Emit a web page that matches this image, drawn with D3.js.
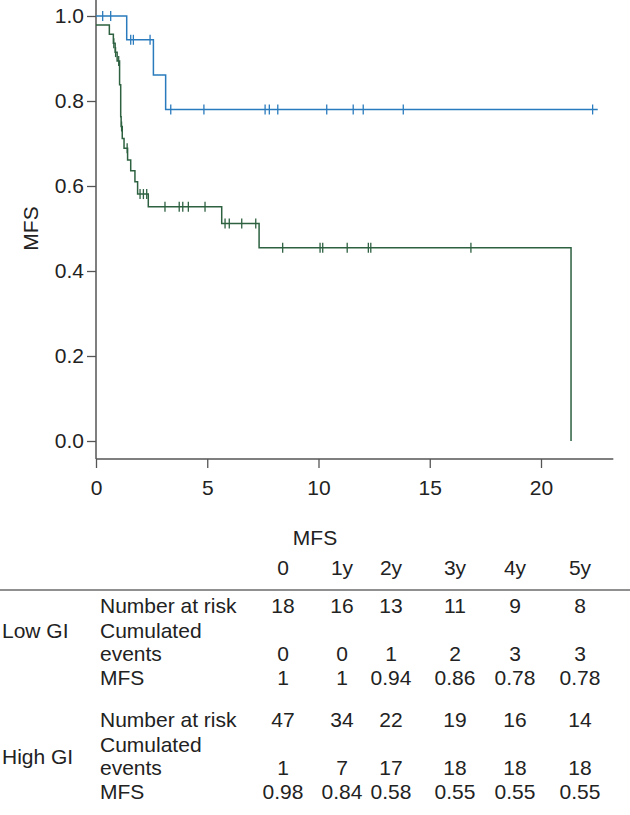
<!DOCTYPE html>
<html><head><meta charset="utf-8">
<script src="https://cdn.jsdelivr.net/npm/d3@7"></script>
<style>
body{margin:0;background:#fff}
svg{display:block}
text{font-family:"Liberation Sans",Arial,Helvetica,sans-serif;fill:#222}
</style>
</head><body>
<svg id="c" width="630" height="815"></svg>
<script>
// ---------- data ----------
const lowStepTimes = [0, 1.38, 2.58, 3.13];
const lowStepSurv  = [1.0, 0.944, 0.861, 0.780];
const lowEndTime = 22.55;
const lowCensorTimes = [0.30, 0.66, 1.56, 1.68, 2.43, 3.36, 4.85, 7.60, 7.79, 8.17, 10.37, 11.56, 12.01, 13.81, 22.32];

const highStepTimes = [0, 0.60, 0.78, 0.86, 0.95, 1.06, 1.11, 1.13, 1.18, 1.26, 1.42, 1.56, 1.75, 1.87, 2.35, 5.65, 7.33, 21.35];
const highStepSurv  = [0.979, 0.957, 0.936, 0.915, 0.894, 0.838, 0.763, 0.740, 0.712, 0.689, 0.661, 0.636, 0.610, 0.581, 0.551, 0.512, 0.455, 0.0];
const highCensorTimes = [0.80, 0.88, 1.02, 1.15, 1.40, 1.98, 2.13, 2.28, 3.10, 3.74, 3.90, 4.15, 4.90, 5.80, 5.99, 6.55, 7.18, 8.39, 10.07, 10.19, 11.29, 12.24, 12.35, 16.85];

const xTicks = [0, 5, 10, 15, 20];
const yTicks = [0, 0.2, 0.4, 0.6, 0.8, 1.0];

const tableTitle = "MFS";
const tableCols = ["0", "1y", "2y", "3y", "4y", "5y"];
const rowLabels = ["Number at risk", "Cumulated", "events", "MFS"];
const groups = ["Low GI", "High GI"];
const lowAtRisk = ["18", "16", "13", "11", "9", "8"];
const lowEvents = ["0", "0", "1", "2", "3", "3"];
const lowMFS = ["1", "1", "0.94", "0.86", "0.78", "0.78"];
const highAtRisk = ["47", "34", "22", "19", "16", "14"];
const highEvents = ["1", "7", "17", "18", "18", "18"];
const highMFS = ["0.98", "0.84", "0.58", "0.55", "0.55", "0.55"];

// ---------- drawing ----------
const svg = d3.select("#c");
const blue = "#2a7bbd", green = "#2d6140", axisCol = "#555";
const fs = 21;

const x = d3.scaleLinear().domain([0, 20]).range([96, 541]);
const y = d3.scaleLinear().domain([0, 1]).range([441, 16]);
const xAxisEnd = 23.25, yAxisTop = 1.038, xAxisY = 459;

// axes
const xa = svg.append("g").attr("transform", `translate(0,${xAxisY})`)
  .call(d3.axisBottom(x).tickValues(xTicks).tickFormat(d3.format("d")).tickSize(9).tickPadding(12).tickSizeOuter(0));
xa.select(".domain").remove();
xa.append("line").attr("x1", x(0)).attr("x2", x(xAxisEnd)).attr("stroke", axisCol).attr("stroke-width", 1.5);
xa.selectAll(".tick line").attr("stroke", axisCol).attr("stroke-width", 1.3);
xa.selectAll("text").attr("font-size", fs).attr("fill", "#222");

const ya = svg.append("g").attr("transform", `translate(${x(0)},0)`)
  .call(d3.axisLeft(y).tickValues(yTicks).tickFormat(d3.format(".1f")).tickSize(9).tickPadding(3).tickSizeOuter(0));
ya.select(".domain").remove();
ya.append("line").attr("y1", y(yAxisTop)).attr("y2", xAxisY).attr("stroke", axisCol).attr("stroke-width", 1.5);
ya.selectAll(".tick line").attr("stroke", axisCol).attr("stroke-width", 1.3);
ya.selectAll("text").attr("font-size", fs).attr("fill", "#222");

svg.append("text").attr("transform", `translate(38,${y(0.5)}) rotate(-90)`)
  .attr("text-anchor", "middle").attr("font-size", fs).text("MFS");

// curves
const line = d3.line().x(d => x(d[0])).y(d => y(d[1])).curve(d3.curveStepAfter);
function stepAt(times, surv, t) { let s = surv[0]; for (let i = 0; i < times.length; i++) if (times[i] <= t) s = surv[i]; return s; }

function drawCurve(times, surv, endT, censors, col) {
  const pts = times.map((t, i) => [t, surv[i]]);
  if (endT != null) pts.push([endT, surv[surv.length - 1]]);
  svg.append("path").datum(pts).attr("d", line).attr("fill", "none").attr("stroke", col).attr("stroke-width", 1.5);
  svg.append("g").selectAll("line").data(censors).join("line")
    .attr("x1", d => x(d)).attr("x2", d => x(d))
    .attr("y1", d => y(stepAt(times, surv, d)) - 5).attr("y2", d => y(stepAt(times, surv, d)) + 5)
    .attr("stroke", col).attr("stroke-width", 1.3);
}
drawCurve(lowStepTimes, lowStepSurv, lowEndTime, lowCensorTimes, blue);
drawCurve(highStepTimes, highStepSurv, null, highCensorTimes, green);

// table
const colPos = [283, 342, 391, 455, 515, 580];
const T = svg.append("g").attr("font-size", fs);
T.append("text").attr("x", 315).attr("y", 545).attr("text-anchor", "middle").text(tableTitle);
T.selectAll(".hdr").data(tableCols).join("text").attr("class", "hdr")
  .attr("x", (d, i) => colPos[i]).attr("y", 575).attr("text-anchor", "middle").text(d => d);
T.append("line").attr("x1", 0).attr("x2", 630).attr("y1", 590).attr("y2", 590).attr("stroke", "#222").attr("stroke-width", 1.2);

function block(label, y0, risk, ev, mfs, labelY) {
  T.append("text").attr("x", 2).attr("y", labelY).text(label);
  const rows = [[rowLabels[0], y0, risk], [rowLabels[1], y0 + 25, null], [rowLabels[2], y0 + 48, ev], [rowLabels[3], y0 + 72, mfs]];
  rows.forEach(([lab, yy, vals]) => {
    T.append("text").attr("x", 100).attr("y", yy).text(lab);
    if (vals) T.append("g").selectAll("text").data(vals).join("text")
      .attr("x", (d, i) => colPos[i]).attr("y", yy).attr("text-anchor", "middle").text(d => d);
  });
}
block(groups[0], 613, lowAtRisk, lowEvents, lowMFS, 638);
block(groups[1], 727, highAtRisk, highEvents, highMFS, 764);
</script>
</body></html>
